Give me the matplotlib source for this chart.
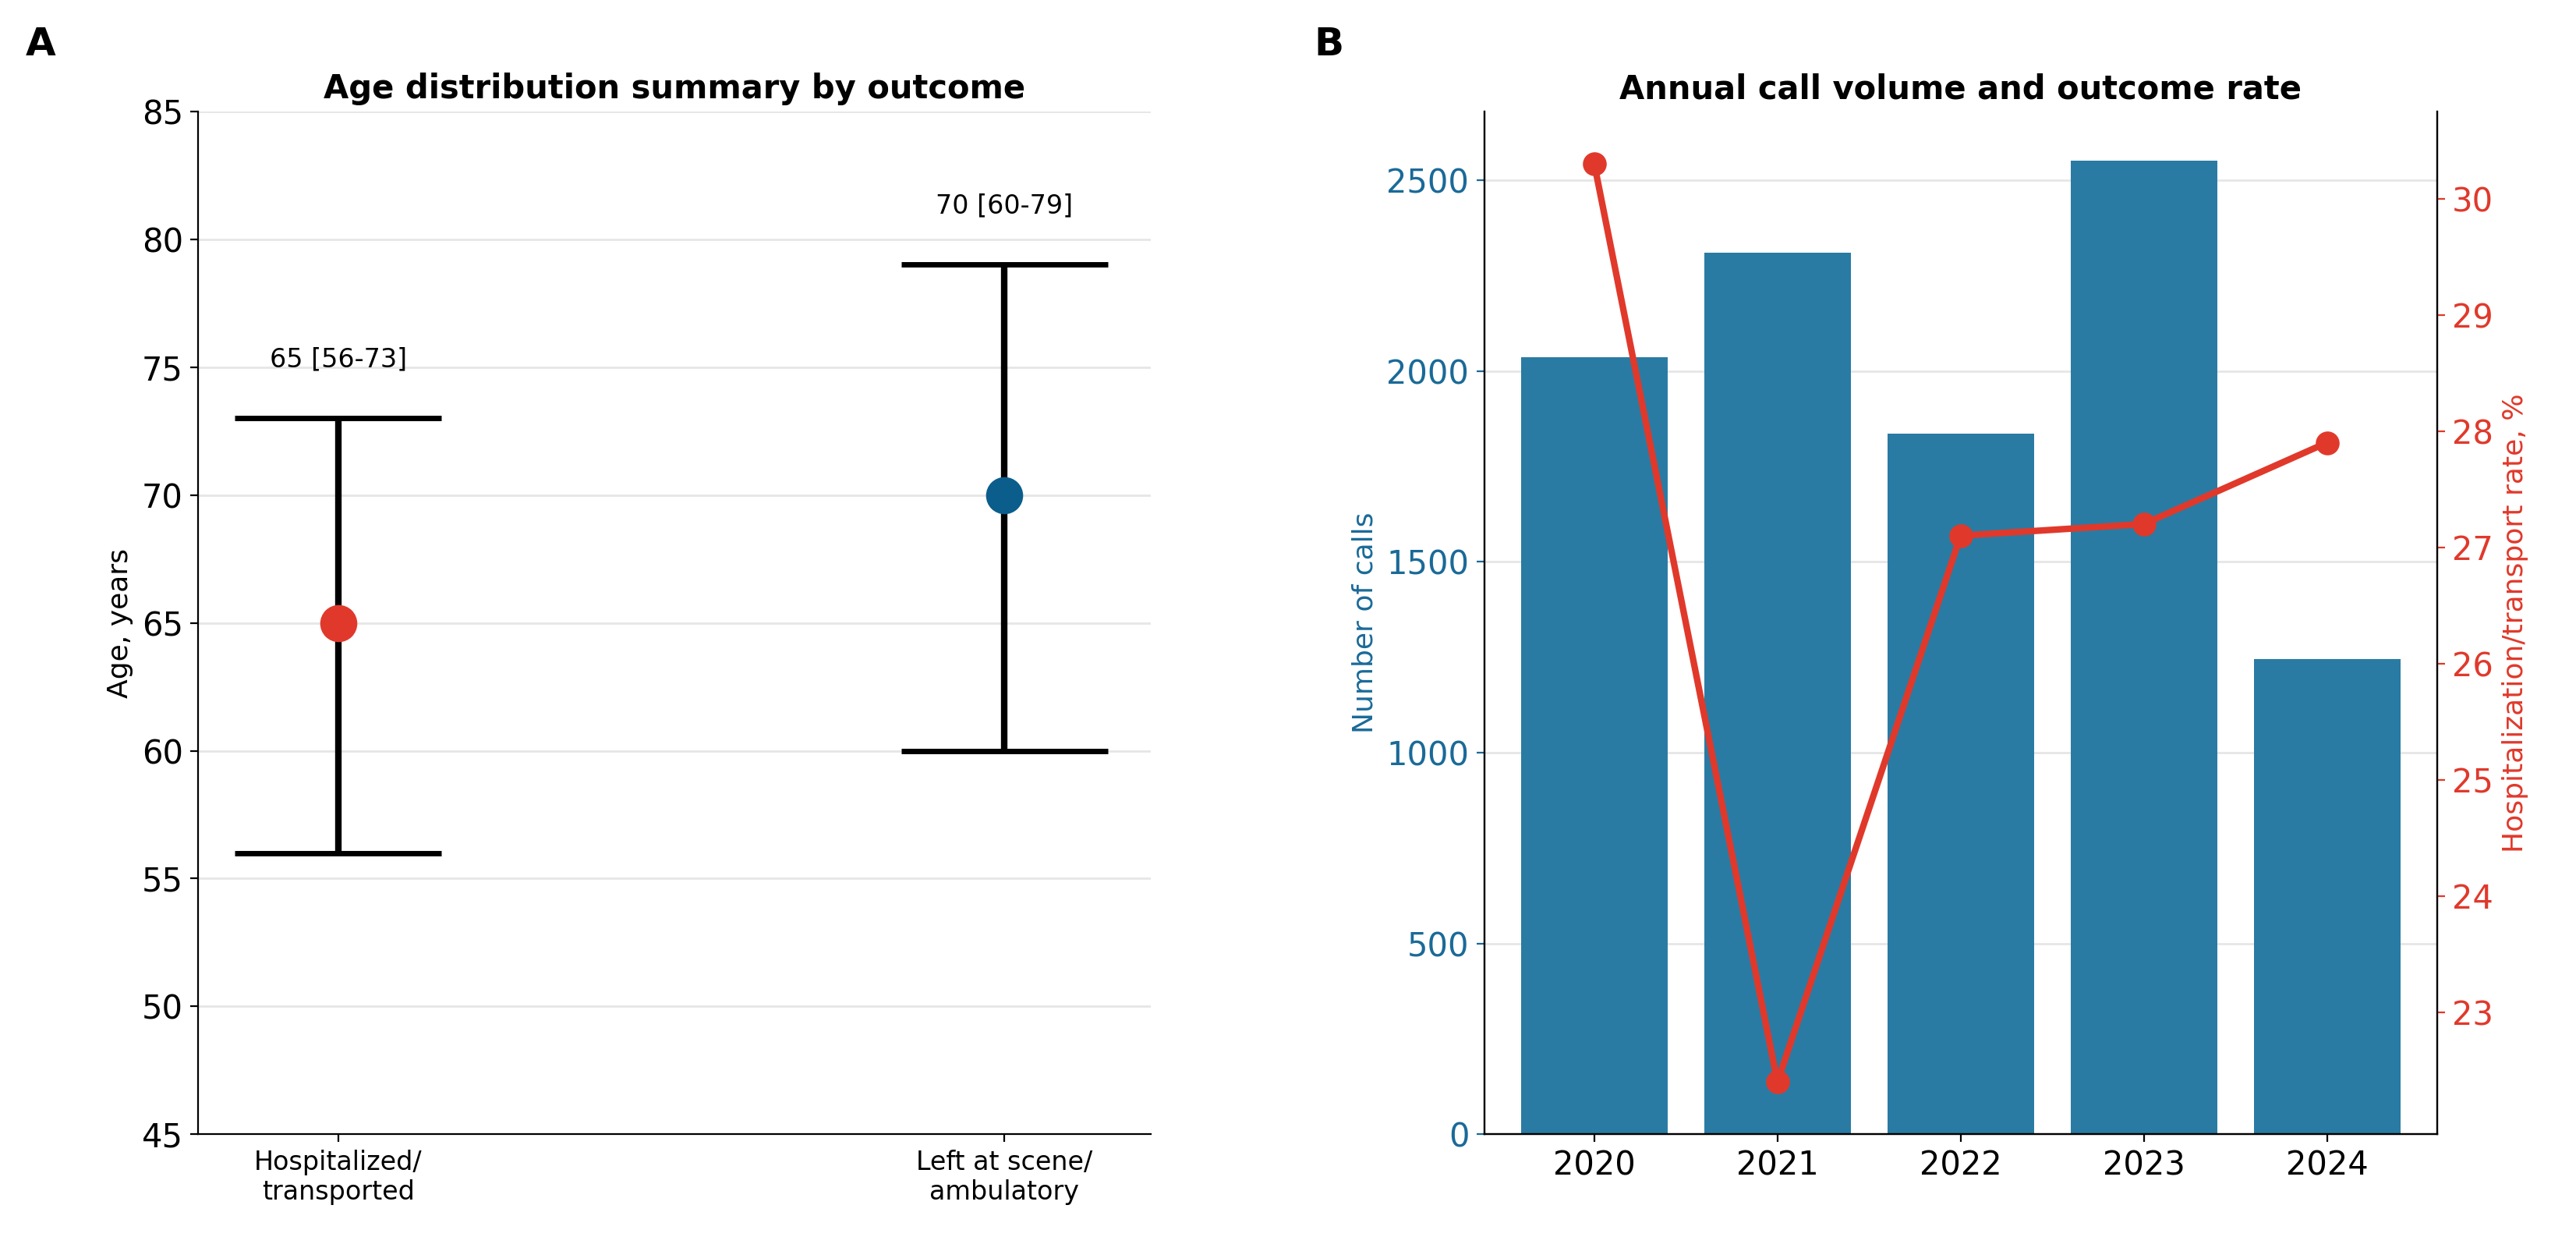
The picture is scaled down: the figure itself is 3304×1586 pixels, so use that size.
import numpy as np
import matplotlib.pyplot as plt

# Panel A data
groups = ["Hospitalized/\ntransported", "Left at scene/\nambulatory"]
median = [65, 70]
q1 = [56, 60]
q3 = [73, 79]
point_colors = ["#e0392b", "#0b5d8c"]

# Panel B data
years = ["2020", "2021", "2022", "2023", "2024"]
calls = [2035, 2310, 1835, 2550, 1245]
rate = [30.3, 22.4, 27.1, 27.2, 27.9]

red = "#e0392b"
blue = "#1a6a98"
bar_color = "#2a7ba3"

fig, (ax1, ax2) = plt.subplots(1, 2, figsize=(16.52, 7.93), dpi=200)
fig.subplots_adjust(left=0.077, right=0.946, top=0.91, bottom=0.083, wspace=0.35)

# ---------------- Panel A ----------------
x = np.arange(len(groups))
for i in range(len(groups)):
    ax1.vlines(x[i], q1[i], q3[i], color="black", lw=3, zorder=2)
    ax1.hlines([q1[i], q3[i]], x[i] - 0.155, x[i] + 0.155, color="black", lw=2.5, zorder=2)
    ax1.scatter(x[i], median[i], s=260, color=point_colors[i], zorder=3)
    ax1.text(x[i], q3[i] + 1.8, "{} [{}-{}]".format(median[i], q1[i], q3[i]),
             ha="center", va="bottom", fontsize=12)
ax1.set_xlim(-0.21, 1.22)
ax1.set_ylim(45, 85)
ax1.set_xticks(x)
ax1.set_xticklabels(groups, fontsize=12)
ax1.tick_params(axis="y", labelsize=15)
ax1.set_ylabel("Age, years", fontsize=13)
ax1.set_title("Age distribution summary by outcome", fontsize=15, fontweight="bold")
ax1.yaxis.grid(True, color="#e6e6e6", lw=1)
ax1.set_axisbelow(True)
for s in ["top", "right"]:
    ax1.spines[s].set_visible(False)

# ---------------- Panel B ----------------
xb = np.arange(len(years))
ax2.bar(xb, calls, width=0.8, color=bar_color, zorder=2)
ax2.set_xlim(-0.6, 4.6)
ax2.set_ylim(0, 2680)
ax2.set_xticks(xb)
ax2.set_xticklabels(years, fontsize=15)
ax2.tick_params(axis="y", labelsize=15, colors=blue)
ax2.set_ylabel("Number of calls", fontsize=13, color=blue)
ax2.yaxis.grid(True, color="#e6e6e6", lw=1)
ax2.set_axisbelow(True)
ax2.spines["top"].set_visible(False)
ax2.set_title("Annual call volume and outcome rate", fontsize=15, fontweight="bold")

ax3 = ax2.twinx()
ax3.plot(xb, rate, color=red, lw=3, marker="o", markersize=10, zorder=3)
ax3.set_ylim(21.95, 30.75)
ax3.set_yticks(range(23, 31))
ax3.tick_params(axis="y", labelsize=15, colors=red)
ax3.set_ylabel("Hospitalization/transport rate, %", fontsize=13, color=red)
ax3.spines["top"].set_visible(False)

fig.text(0.01, 0.955, "A", fontsize=18, fontweight="bold")
fig.text(0.51, 0.955, "B", fontsize=18, fontweight="bold")

fig.savefig("out.png")
